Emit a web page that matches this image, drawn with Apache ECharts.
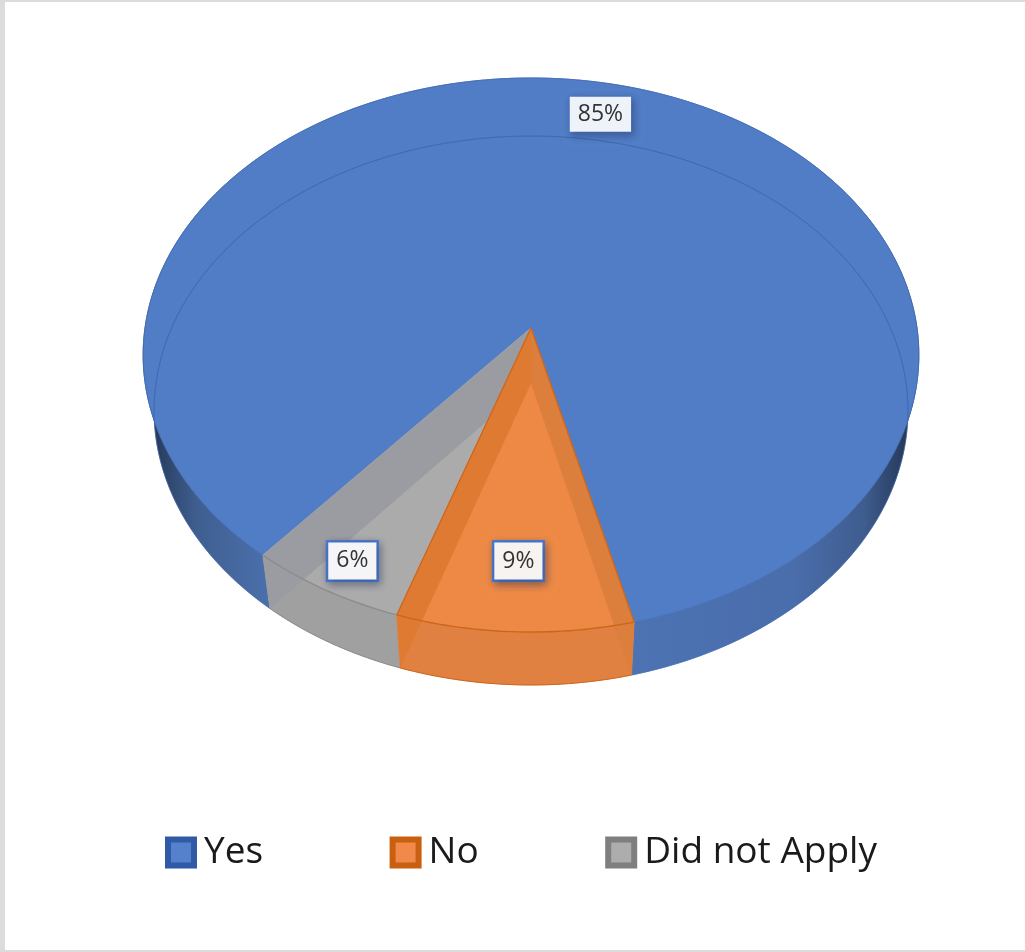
<!DOCTYPE html>
<html>
<head>
<meta charset="utf-8">
<style>
  html, body { margin: 0; padding: 0; background: #fff; }
  #chart { width: 1025px; height: 952px; }
</style>
<script src="https://cdn.jsdelivr.net/npm/echarts@6/dist/echarts.min.js"></script>
</head>
<body>
<div id="chart"></div>
<script>
// Survey answers, in the order the slices run clockwise
const categories = ['Yes', 'No', 'Did not Apply'];
const shares = [85, 9, 6];
const shareLabels = ['85%', '9%', '6%'];
const firstSliceAngle = 220;

// Perspective projection of the upper and lower discs of the pie
const upperDisc = { cx: 531, cy: 328, a: 386, b: 274.4, k: 0.0975 };
const lowerDisc = { cx: 531, cy: 383, a: 375, b: 271.7, k: 0.1002 };
const upperOutline = { cx: 531, cy: 355, rx: 388, ry: 277 };

const palette = [
  { face: '#517dc6', side: null, bandStart: null, bandEnd: null, edge: 'rgba(62,104,176,0.6)', legend: '#5580cc', legendEdge: '#2f5ba6' },
  { face: '#ee8945', side: '#e08141', bandStart: '#dc7e3c', bandEnd: '#df7a33', edge: '#cb6519', legend: '#f0894a', legendEdge: '#c9600f' },
  { face: '#ababab', side: '#a0a0a0', bandStart: null, bandEnd: '#9a9ca2', edge: '#8c8c8c', legend: '#adadad', legendEdge: '#7f7f7f' }
];

const labelLayout = [
  { radius: 0.865, turn: 0, padding: [6, 8, 6, 8], fill: '#eef2f9', border: 1 },
  { radius: 0.785, turn: 0, padding: [7, 8, 7, 8], fill: '#f6f3f0', border: 2.5 },
  { radius: 0.893, turn: -0.6, padding: [7, 8, 7, 8], fill: '#f5f5f7', border: 2.5 }
];

const blueWallGradient = {
  type: 'linear', x: 143, y: 0, x2: 919, y2: 0, global: true,
  colorStops: [
    { offset: 0, color: '#1b2c49' },
    { offset: 0.025, color: '#2b4266' },
    { offset: 0.07, color: '#3f5f90' },
    { offset: 0.16, color: '#4a6fab' },
    { offset: 0.5, color: '#4e76b8' },
    { offset: 0.84, color: '#4a6dab' },
    { offset: 0.93, color: '#3e5c8e' },
    { offset: 0.975, color: '#2a3f62' },
    { offset: 1, color: '#1b2c49' }
  ]
};

const total = shares.reduce((sum, v) => sum + v, 0);

function project(disc, radius, deg) {
  const t = deg * Math.PI / 180;
  const u = radius * Math.sin(t);
  const v = -radius * Math.cos(t);
  const w = 1 - disc.k * v;
  return [disc.cx + disc.a * u / w, disc.cy + disc.b * v / w];
}

function rim(disc, from, to) {
  const steps = Math.max(2, Math.ceil(Math.abs(to - from)));
  const pts = [];
  for (let i = 0; i <= steps; i++) {
    pts.push(project(disc, 1, from + (to - from) * i / steps));
  }
  return pts;
}

function insideUpperOutline(p) {
  const dx = (p[0] - upperOutline.cx) / upperOutline.rx;
  const dy = (p[1] - upperOutline.cy) / upperOutline.ry;
  return dx * dx + dy * dy < 0.998;
}

function polygon(points, fill, stroke, lineWidth) {
  return {
    type: 'polygon',
    shape: { points: points },
    style: { fill: fill, stroke: stroke || fill, lineWidth: lineWidth === undefined ? 0.6 : lineWidth }
  };
}

function polyline(points, stroke, lineWidth) {
  return {
    type: 'polyline',
    shape: { points: points },
    style: { fill: null, stroke: stroke, lineWidth: lineWidth }
  };
}

// Draws one slice: outer wall, top face, radial walls facing the viewer, rim lines, value label
function renderSlice(params, api) {
  const index = params.seriesIndex;
  const value = api.value(0);
  const before = shares.slice(0, index).reduce((sum, v) => sum + v, 0);
  const start = firstSliceAngle + before / total * 360;
  const end = start + value / total * 360;
  const tone = palette[index];
  const children = [];

  const wallFill = tone.side || blueWallGradient;
  children.push(polygon(rim(upperDisc, start, end).concat(rim(lowerDisc, end, start)), wallFill, wallFill));

  const apex = project(upperDisc, 0, 0);
  const baseApex = project(lowerDisc, 0, 0);
  children.push(polygon([apex].concat(rim(upperDisc, start, end)), tone.face, tone.face));

  const radial = (deg, color) => polygon(
    [apex, project(upperDisc, 1, deg), project(lowerDisc, 1, deg), baseApex],
    color, color, 0.3
  );
  if (tone.bandStart) children.push(radial(start, tone.bandStart));
  if (tone.bandEnd) children.push(radial(end, tone.bandEnd));

  // Far edge of the lower disc, seen through the blue top face
  if (index === 0) {
    const seen = rim(lowerDisc, start, end).filter(insideUpperOutline);
    children.push(polyline(seen, 'rgba(58,100,172,0.55)', 1));
  }

  children.push(polyline(rim(upperDisc, start, end), tone.edge, index === 0 ? 1 : 1.4));
  children.push(polyline(rim(lowerDisc, start, end), tone.edge, 1));
  if (index === 1) {
    children.push(polyline([apex, project(upperDisc, 1, start)], tone.edge, 1.2));
    children.push(polyline([apex, project(upperDisc, 1, end)], tone.edge, 1.2));
  }

  const mid = (start + end) / 2 + labelLayout[index].turn;
  const layout = labelLayout[index];
  const at = project(upperDisc, layout.radius, mid);
  children.push({
    type: 'text',
    z2: 10,
    style: {
      text: shareLabels[index],
      x: at[0],
      y: at[1],
      align: 'center',
      verticalAlign: 'middle',
      font: '23px "Open Sans", sans-serif',
      fill: '#333333',
      backgroundColor: layout.fill,
      borderColor: '#4a78cc',
      borderWidth: layout.border,
      padding: layout.padding,
      shadowColor: 'rgba(30,45,85,0.42)',
      shadowBlur: 8,
      shadowOffsetX: 2,
      shadowOffsetY: 3
    }
  });

  return { type: 'group', children: children };
}

const chart = echarts.init(document.getElementById('chart'), null, { renderer: 'canvas' });

// The orange slice sits above the grey one so its walls reach the pie's apex
const seriesOrder = [1, 3, 2];

chart.setOption({
  animation: false,
  backgroundColor: '#ffffff',
  graphic: [
    { type: 'rect', shape: { x: 0, y: 0, width: 1025, height: 2 }, style: { fill: '#dcdcdc' }, silent: true },
    { type: 'rect', shape: { x: 0, y: 0, width: 5, height: 952 }, style: { fill: '#dcdcdc' }, silent: true },
    { type: 'rect', shape: { x: 0, y: 950, width: 1025, height: 2 }, style: { fill: '#dcdcdc' }, silent: true }
  ],
  legend: {
    left: 165,
    top: 834,
    padding: 0,
    itemWidth: 26,
    itemHeight: 26,
    itemGap: 126.5,
    selectedMode: false,
    icon: 'rect',
    textStyle: {
      fontFamily: '"Open Sans", sans-serif',
      fontSize: 37,
      color: '#1a1a1a',
      padding: [0, 0, 0, 5]
    },
    data: categories.map((name, i) => ({
      name: name,
      itemStyle: { color: palette[i].legend, borderColor: palette[i].legendEdge, borderWidth: 6 }
    }))
  },
  series: categories.map((name, i) => ({
    type: 'custom',
    name: name,
    coordinateSystem: 'none',
    silent: true,
    z: seriesOrder[i],
    itemStyle: { color: palette[i].legend },
    renderItem: renderSlice,
    data: [[shares[i]]]
  }))
});
</script>
</body>
</html>
